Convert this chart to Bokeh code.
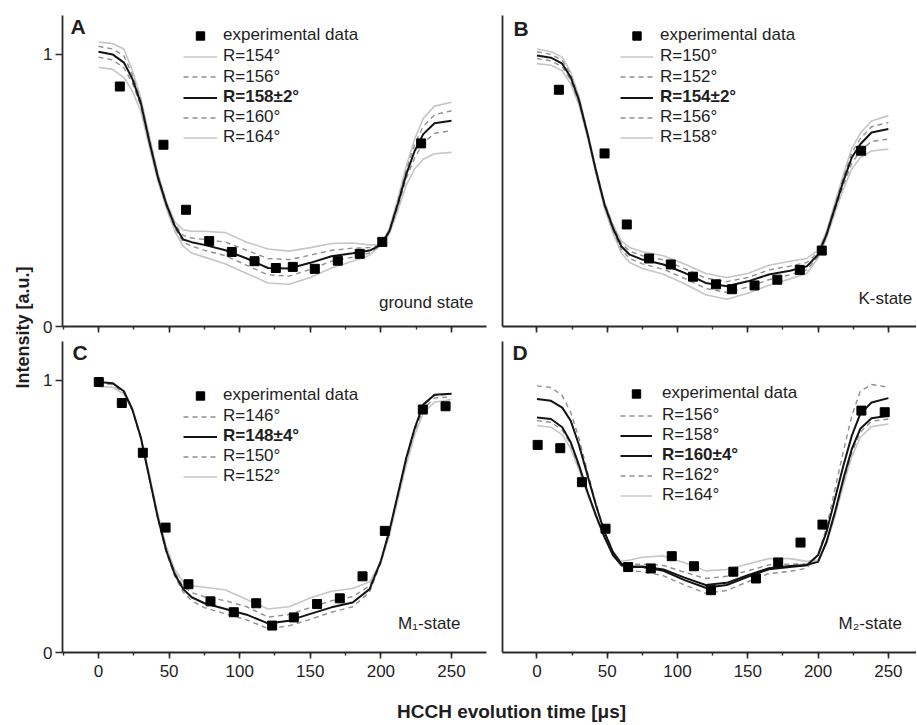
import math
from bokeh.plotting import figure
from bokeh.models import Range1d, Legend, LegendItem, FixedTicker, SingleIntervalTicker, Label
from bokeh.layouts import row, column
from bokeh.embed import file_html
from bokeh.resources import INLINE
from bokeh.core.properties import value

FONT = "Liberation Sans"
TXT = "#1e1e1e"

# ---------------- data ----------------
TIME = [0, 10, 18, 24, 30, 36, 42, 48, 54, 60, 66, 75, 90, 105, 120, 135, 150, 165,
        180, 192, 200, 206, 212, 218, 224, 230, 238, 250]

# Panel A: ground state
A_exp_t = [15.1, 46.0, 62.0, 78.4, 94.4, 110.5, 125.6, 137.6, 153.2, 169.5, 185.0, 201.0, 228.5]
A_exp_y = [0.882, 0.668, 0.429, 0.314, 0.274, 0.240, 0.215, 0.219, 0.212, 0.242, 0.267, 0.311, 0.673]
A_R154 = [1.045, 1.04, 1.02, 0.94, 0.84, 0.70, 0.565, 0.46, 0.385, 0.355, 0.35, 0.35, 0.345, 0.31, 0.285, 0.277, 0.29, 0.305, 0.307, 0.30, 0.30, 0.36, 0.47, 0.59, 0.69, 0.765, 0.81, 0.824]
A_R156 = [1.03, 1.02, 0.995, 0.925, 0.83, 0.69, 0.557, 0.455, 0.377, 0.335, 0.325, 0.32, 0.31, 0.28, 0.25, 0.246, 0.262, 0.28, 0.288, 0.29, 0.30, 0.355, 0.46, 0.575, 0.67, 0.735, 0.778, 0.793]
A_R158 = [1.01, 1.00, 0.97, 0.91, 0.82, 0.68, 0.55, 0.45, 0.37, 0.32, 0.31, 0.30, 0.28, 0.25, 0.215, 0.213, 0.234, 0.258, 0.269, 0.279, 0.30, 0.35, 0.45, 0.56, 0.646, 0.707, 0.747, 0.756]
A_R160 = [0.99, 0.98, 0.95, 0.895, 0.81, 0.672, 0.545, 0.445, 0.362, 0.31, 0.295, 0.28, 0.26, 0.225, 0.19, 0.185, 0.21, 0.24, 0.255, 0.27, 0.30, 0.345, 0.44, 0.545, 0.62, 0.675, 0.71, 0.72]
A_R164 = [0.953, 0.945, 0.915, 0.865, 0.79, 0.66, 0.535, 0.435, 0.35, 0.295, 0.27, 0.255, 0.23, 0.195, 0.16, 0.155, 0.18, 0.215, 0.24, 0.262, 0.30, 0.34, 0.425, 0.52, 0.58, 0.615, 0.635, 0.64]

# Panel B: K-state
B_exp_t = [15.6, 48.1, 63.9, 79.8, 95.2, 111.0, 127.4, 138.7, 154.8, 171.0, 187.0, 202.6, 230.6]
B_exp_y = [0.870, 0.636, 0.375, 0.250, 0.228, 0.183, 0.155, 0.137, 0.151, 0.172, 0.208, 0.279, 0.646]
B_R150 = [1.02, 1.01, 0.99, 0.935, 0.845, 0.715, 0.58, 0.46, 0.375, 0.315, 0.29, 0.275, 0.26, 0.23, 0.195, 0.18, 0.195, 0.225, 0.24, 0.25, 0.28, 0.35, 0.455, 0.56, 0.655, 0.71, 0.755, 0.775]
B_R152 = [1.01, 1.0, 0.978, 0.925, 0.837, 0.711, 0.576, 0.455, 0.369, 0.305, 0.277, 0.26, 0.245, 0.213, 0.178, 0.165, 0.18, 0.208, 0.222, 0.235, 0.272, 0.344, 0.446, 0.548, 0.638, 0.69, 0.734, 0.75]
B_R154 = [0.996, 0.988, 0.966, 0.916, 0.83, 0.707, 0.572, 0.449, 0.363, 0.295, 0.264, 0.246, 0.228, 0.197, 0.16, 0.148, 0.166, 0.191, 0.205, 0.221, 0.264, 0.338, 0.437, 0.535, 0.621, 0.67, 0.713, 0.726]
B_R156 = [0.985, 0.976, 0.955, 0.906, 0.822, 0.702, 0.567, 0.443, 0.355, 0.283, 0.25, 0.23, 0.21, 0.177, 0.14, 0.125, 0.145, 0.172, 0.19, 0.208, 0.258, 0.332, 0.428, 0.52, 0.60, 0.645, 0.68, 0.689]
B_R158 = [0.966, 0.96, 0.94, 0.892, 0.812, 0.695, 0.56, 0.435, 0.345, 0.27, 0.235, 0.213, 0.192, 0.157, 0.117, 0.10, 0.122, 0.152, 0.175, 0.195, 0.252, 0.325, 0.418, 0.505, 0.58, 0.62, 0.645, 0.652]

# Panel C: M1-state
C_exp_t = [0.2, 16.5, 31.4, 47.5, 63.7, 79.3, 95.8, 111.7, 123.0, 138.3, 154.8, 170.9, 187.0, 202.8, 229.7, 245.8]
C_exp_y = [0.994, 0.917, 0.734, 0.459, 0.251, 0.188, 0.148, 0.181, 0.099, 0.129, 0.178, 0.199, 0.280, 0.447, 0.893, 0.905]
C_R146 = [0.99, 0.985, 0.955, 0.89, 0.785, 0.638, 0.49, 0.367, 0.28, 0.222, 0.19, 0.165, 0.142, 0.12, 0.088, 0.098, 0.122, 0.148, 0.168, 0.222, 0.33, 0.445, 0.58, 0.715, 0.825, 0.91, 0.945, 0.95]
C_R148 = [0.994, 0.99, 0.96, 0.893, 0.789, 0.642, 0.496, 0.374, 0.288, 0.233, 0.203, 0.181, 0.16, 0.139, 0.107, 0.117, 0.142, 0.166, 0.184, 0.233, 0.337, 0.447, 0.581, 0.716, 0.825, 0.911, 0.947, 0.951]
C_R150 = [0.99, 0.985, 0.955, 0.89, 0.79, 0.645, 0.50, 0.38, 0.295, 0.243, 0.22, 0.205, 0.19, 0.168, 0.13, 0.14, 0.165, 0.19, 0.205, 0.245, 0.335, 0.44, 0.575, 0.705, 0.815, 0.895, 0.935, 0.94]
C_R152 = [0.978, 0.975, 0.95, 0.89, 0.795, 0.655, 0.51, 0.39, 0.305, 0.26, 0.245, 0.24, 0.23, 0.195, 0.16, 0.168, 0.2, 0.225, 0.235, 0.26, 0.33, 0.43, 0.56, 0.69, 0.80, 0.88, 0.92, 0.93]

# Panel D: M2-state
D_exp_t = [0.5, 16.6, 32.0, 48.8, 64.9, 81.0, 95.9, 111.7, 123.8, 139.7, 155.8, 171.6, 187.5, 203.1, 230.8, 247.4]
D_exp_y = [0.763, 0.751, 0.626, 0.455, 0.314, 0.309, 0.354, 0.317, 0.229, 0.297, 0.272, 0.331, 0.404, 0.470, 0.889, 0.883]
D_R156 = [0.98, 0.974, 0.944, 0.883, 0.785, 0.663, 0.547, 0.446, 0.37, 0.32, 0.30, 0.297, 0.282, 0.248, 0.218, 0.228, 0.26, 0.29, 0.298, 0.31, 0.36, 0.46, 0.60, 0.74, 0.87, 0.96, 0.985, 0.975]
D_R158 = [0.932, 0.925, 0.90, 0.852, 0.761, 0.651, 0.541, 0.443, 0.37, 0.327, 0.315, 0.314, 0.30, 0.266, 0.238, 0.248, 0.278, 0.306, 0.314, 0.321, 0.358, 0.443, 0.565, 0.687, 0.797, 0.877, 0.919, 0.935]
D_R160 = [0.864, 0.858, 0.828, 0.773, 0.687, 0.59, 0.504, 0.425, 0.358, 0.321, 0.315, 0.316, 0.305, 0.275, 0.248, 0.256, 0.284, 0.31, 0.318, 0.322, 0.333, 0.407, 0.516, 0.639, 0.748, 0.822, 0.861, 0.87]
D_R162 = [0.852, 0.846, 0.818, 0.765, 0.68, 0.585, 0.50, 0.422, 0.36, 0.325, 0.322, 0.325, 0.32, 0.295, 0.272, 0.28, 0.30, 0.322, 0.325, 0.325, 0.335, 0.405, 0.51, 0.63, 0.735, 0.81, 0.85, 0.858]
D_R164 = [0.834, 0.828, 0.80, 0.75, 0.67, 0.58, 0.497, 0.42, 0.365, 0.335, 0.34, 0.35, 0.355, 0.33, 0.30, 0.305, 0.325, 0.345, 0.345, 0.335, 0.34, 0.40, 0.50, 0.615, 0.72, 0.79, 0.83, 0.84]

X_TICK_INTERVAL = 50
Y_TICKS = [0, 1]
Y_LABEL = "Intensity [a.u.]"
X_LABEL = "HCCH evolution time [\u03bcs]"
EXP_LABEL = "experimental data"

# ---------------- styles ----------------
STYLE = {
    "light": dict(line_color="#c6c6c6", line_width=1.6),
    "dash": dict(line_color="#8f8f8f", line_width=1.4, line_dash="5 4"),
    "black": dict(line_color="#141414", line_width=2.0),
}
DRAW_ORDER = {"light": 0, "dash": 1, "black": 2}

XR_LEFT = (-25.5, 274.8)
XR_RIGHT = (-24.5, 270.0)
YR = (0, 1.143)

panels = [
    dict(letter="A", state="ground state", t=A_exp_t, y=A_exp_y,
         curves=[("R=154\u00b0", A_R154, "light", False), ("R=156\u00b0", A_R156, "dash", False),
                 ("R=158\u00b12\u00b0", A_R158, "black", True), ("R=160\u00b0", A_R160, "dash", False),
                 ("R=164\u00b0", A_R164, "light", False)],
         w=456, h=341, xr=XR_LEFT, bl=28, br=4, bt=15, bb=15, top=True, left=True,
         leg_x=121, gw=34, so=6, leg_c=[20, 41, 61.5, 82, 102, 122], fh=311,
         letter_xy=(-19.8, 1.103), state_xy=(265.6, 0.088)),
    dict(letter="B", state="K-state", t=B_exp_t, y=B_exp_y,
         curves=[("R=150\u00b0", B_R150, "light", False), ("R=152\u00b0", B_R152, "dash", False),
                 ("R=154\u00b12\u00b0", B_R154, "black", True), ("R=156\u00b0", B_R156, "dash", False),
                 ("R=158\u00b0", B_R158, "light", False)],
         w=426, h=341, xr=XR_RIGHT, bl=12, br=0, bt=15, bb=15, top=True, left=False,
         leg_x=118, gw=33, so=7, leg_c=[20, 41, 61.5, 82, 102, 122], fh=311,
         letter_xy=(-16.7, 1.097), state_xy=(267.0, 0.103)),
    dict(letter="C", state="M\u2081-state", t=C_exp_t, y=C_exp_y,
         curves=[("R=146\u00b0", C_R146, "dash", False), ("R=148\u00b14\u00b0", C_R148, "black", True),
                 ("R=150\u00b0", C_R150, "dash", False), ("R=152\u00b0", C_R152, "light", False)],
         w=456, h=349, xr=XR_LEFT, bl=28, br=4, bt=0, bb=38, top=False, left=True,
         leg_x=121, gw=34, so=6, leg_c=[54, 75, 95, 115, 135], fh=311,
         letter_xy=(-18.4, 1.101), state_xy=(256.4, 0.107)),
    dict(letter="D", state="M\u2082-state", t=D_exp_t, y=D_exp_y,
         curves=[("R=156\u00b0", D_R156, "dash", False), ("R=158\u00b0", D_R158, "black", False),
                 ("R=160\u00b14\u00b0", D_R160, "black", True), ("R=162\u00b0", D_R162, "dash", False),
                 ("R=164\u00b0", D_R164, "light", False)],
         w=426, h=349, xr=XR_RIGHT, bl=12, br=0, bt=0, bb=38, top=False, left=False,
         leg_x=118, gw=32, so=10, leg_c=[52, 74, 94, 114, 134, 154], fh=311,
         letter_xy=(-17.4, 1.101), state_xy=(259.6, 0.107)),
]


def make_panel(cfg):
    p = figure(width=cfg["w"], height=cfg["h"], x_range=Range1d(*cfg["xr"]), y_range=Range1d(*YR),
               output_backend="svg", toolbar_location=None,
               min_border_left=cfg["bl"], min_border_right=cfg["br"],
               min_border_top=cfg["bt"], min_border_bottom=cfg["bb"])
    p.xgrid.visible = False
    p.ygrid.visible = False
    p.outline_line_color = None
    p.background_fill_color = "white"
    p.border_fill_color = "white"

    xa = p.xaxis[0]
    xa.ticker = SingleIntervalTicker(interval=X_TICK_INTERVAL, num_minor_ticks=2)
    xa.axis_line_width = 1.8
    xa.axis_line_color = "#2a2a2a"
    xa.major_tick_line_color = "#2a2a2a"
    xa.minor_tick_line_color = "#2a2a2a"
    xa.major_tick_line_width = 1.6
    xa.minor_tick_line_width = 1.4
    xa.major_tick_out = 6
    xa.major_tick_in = 0
    xa.minor_tick_out = 3
    xa.minor_tick_in = 0
    xa.major_label_text_font = FONT
    xa.major_label_standoff = 6
    if cfg["top"]:
        xa.major_label_text_font_size = "1px"
        xa.major_label_text_color = None
        xa.major_label_standoff = 0
    else:
        xa.major_label_text_font_size = "17px"
        xa.major_label_text_color = TXT

    ya = p.yaxis[0]
    ya.axis_line_width = 1.8
    ya.axis_line_color = "#2a2a2a"
    ya.major_tick_line_color = "#2a2a2a"
    ya.major_tick_line_width = 1.6
    ya.minor_tick_out = 0
    ya.minor_tick_in = 0
    ya.major_tick_in = 0
    if cfg["left"]:
        ya.ticker = FixedTicker(ticks=Y_TICKS, minor_ticks=[])
        ya.major_tick_out = 7
        ya.major_label_standoff = 3
        ya.major_label_text_font = FONT
        ya.major_label_text_color = TXT
        ya.major_label_text_font_size = "17px"
    else:
        ya.ticker = FixedTicker(ticks=[], minor_ticks=[])
        ya.major_tick_out = 0
        ya.major_label_text_font_size = "1px"
        ya.major_label_text_color = None
        ya.major_label_standoff = 0

    renderers = {}
    for lab, ys, kind, bold in sorted(cfg["curves"], key=lambda c: DRAW_ORDER[c[2]]):
        renderers[lab] = p.line(TIME, ys, **STYLE[kind])
    pts = p.scatter(cfg["t"], cfg["y"], marker="square", size=9, fill_color="black",
                    line_color="black")

    rows = [(EXP_LABEL, pts, False)] + [(lab, renderers[lab], bold) for lab, ys, kind, bold in cfg["curves"]]
    for (lab, r, bold), c in zip(rows, cfg["leg_c"]):
        vy = cfg["fh"] - c - 10.5
        leg = Legend(items=[LegendItem(label=value(lab), renderers=[r])],
                     location=(cfg["leg_x"], vy), orientation="vertical",
                     border_line_color=None, background_fill_alpha=0,
                     padding=0, spacing=0, margin=0,
                     glyph_width=cfg["gw"], glyph_height=21, label_height=21,
                     label_standoff=cfg["so"], label_text_font=FONT,
                     label_text_font_size="17px", label_text_color=TXT,
                     label_text_font_style="bold" if bold else "normal")
        p.add_layout(leg, "center")

    lx, ly = cfg["letter_xy"]
    p.add_layout(Label(x=lx, y=ly, text=cfg["letter"], text_font=FONT, text_font_size="21px",
                       text_font_style="bold", text_color=TXT, text_align="left",
                       text_baseline="middle"))
    sx, sy = cfg["state_xy"]
    p.add_layout(Label(x=sx, y=sy, text=cfg["state"], text_font=FONT, text_font_size="17px",
                       text_color=TXT, text_align="right", text_baseline="middle"))
    return p


figs = [make_panel(c) for c in panels]

# shared axis titles
ylab = figure(width=34, height=690, x_range=Range1d(0, 34), y_range=Range1d(0, 690),
              output_backend="svg", toolbar_location=None, x_axis_type=None, y_axis_type=None,
              min_border=0)
ylab.outline_line_color = None
ylab.add_layout(Label(x=22, y=363, text=Y_LABEL, angle=math.pi / 2, text_font=FONT,
                      text_font_size="18px", text_font_style="bold", text_color=TXT,
                      text_align="center", text_baseline="middle"))

xlab = figure(width=916, height=34, x_range=Range1d(0, 916), y_range=Range1d(0, 34),
              output_backend="svg", toolbar_location=None, x_axis_type=None, y_axis_type=None,
              min_border=0)
xlab.outline_line_color = None
xlab.add_layout(Label(x=511, y=13, text=X_LABEL, text_font=FONT, text_font_size="19px",
                      text_font_style="bold", text_color=TXT, text_align="center",
                      text_baseline="middle"))

layout = column(row(ylab, column(row(figs[0], figs[1]), row(figs[2], figs[3]))), xlab)

open("out.html", "w").write(file_html(layout, INLINE))
